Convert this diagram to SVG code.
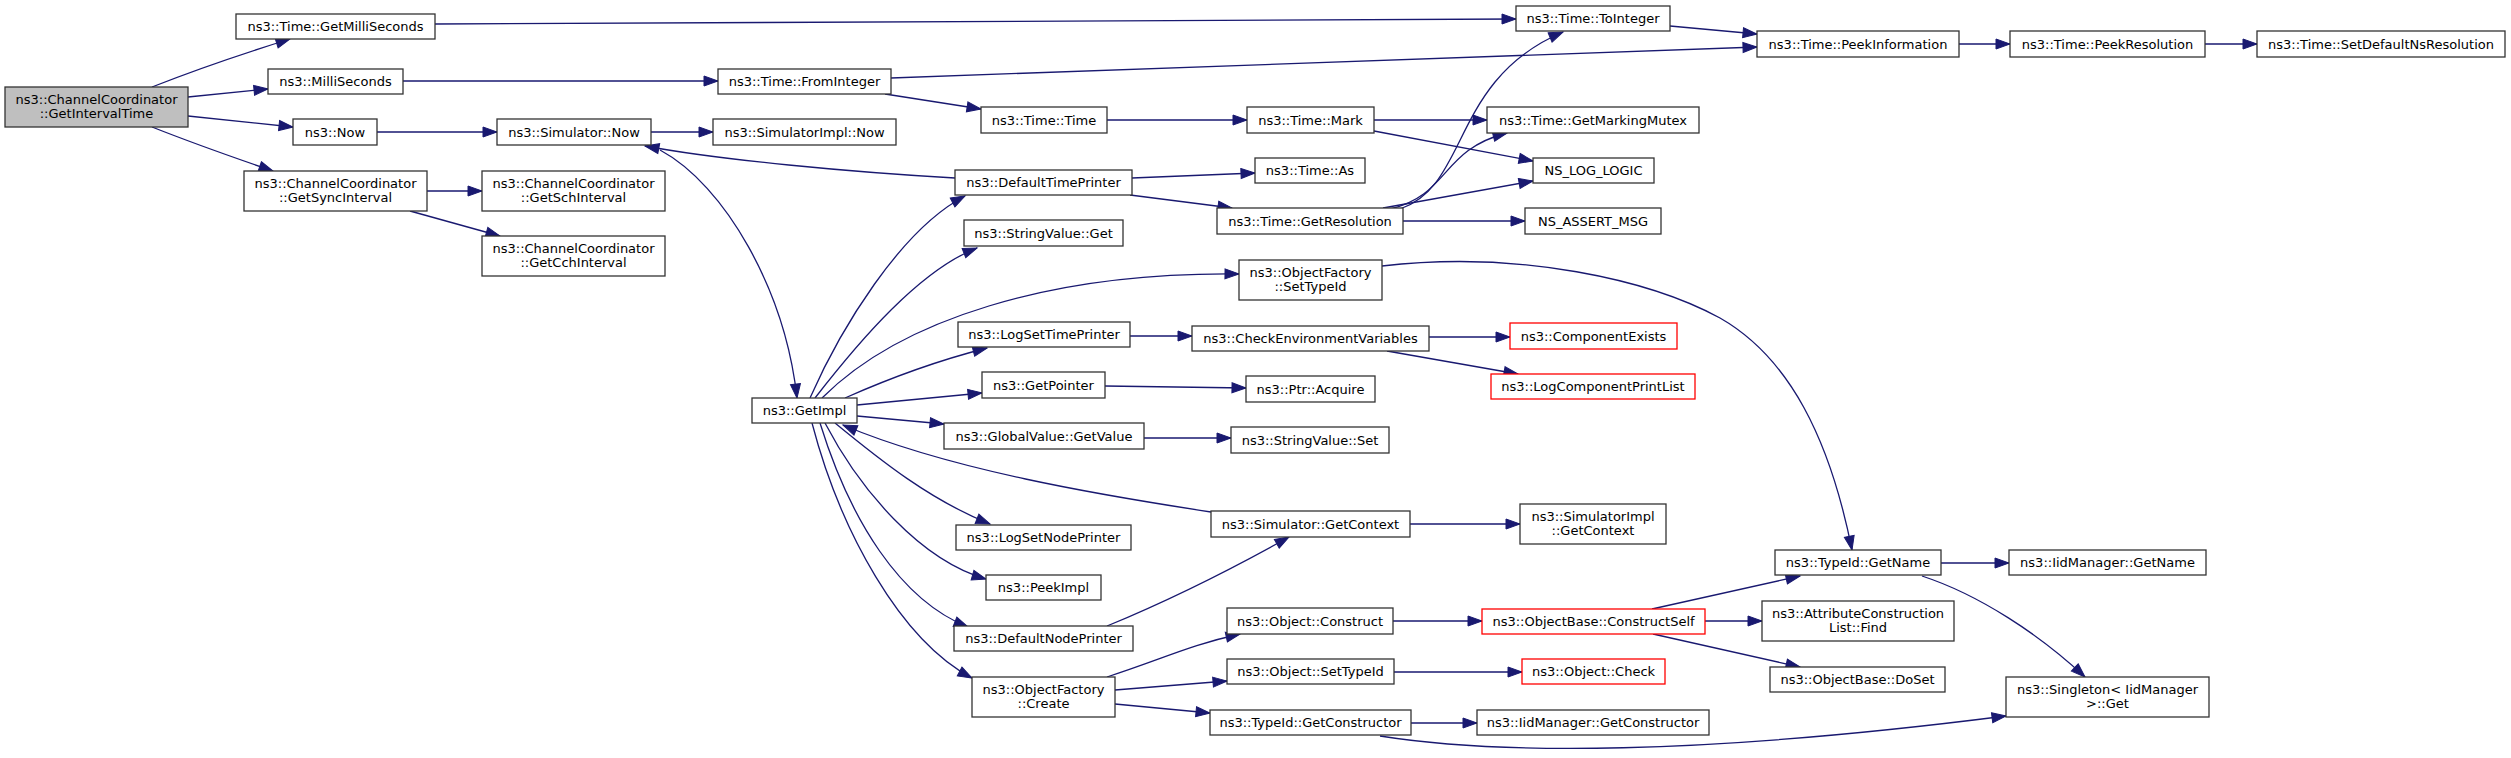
<svg xmlns="http://www.w3.org/2000/svg" width="2511" height="758" viewBox="0 0 2511 758">
<style>
.n rect{fill:#fff;stroke:#333;stroke-width:1.3}
.n.root rect{fill:#bfbfbf}
.n.red rect{stroke:#f00}
.n text{font-family:"DejaVu Sans","Liberation Sans",sans-serif;font-size:13px;text-anchor:middle;fill:#000}
#edges path{fill:none;stroke:#191970;stroke-width:1.3;marker-end:url(#ah)}
</style>
<defs>
<marker id="ah" markerUnits="userSpaceOnUse" markerWidth="15" markerHeight="11" refX="14" refY="5" orient="auto" overflow="visible"><path d="M0,0 L14,5 L0,10 z" fill="#191970" stroke="#191970" stroke-width="1"/></marker>
</defs>
<rect width="2511" height="758" fill="#fff"/>
<g id="edges">
<path d="M152,87 C190,72 245,53 290,39"/>
<path d="M188,97 L268,89"/>
<path d="M188,116 L293,127"/>
<path d="M152,127 C190,142 235,158 273,171"/>
<path d="M427,191 L482,191"/>
<path d="M410,211 L500,236"/>
<path d="M435,24 C600,20 800,19 1516,19"/>
<path d="M403,81 L718,81"/>
<path d="M377,132 L497,132"/>
<path d="M891,78 C1200,66 1500,55 1757,47"/>
<path d="M885,94 L981,109"/>
<path d="M1107,120 L1247,120"/>
<path d="M651,132 L713,132"/>
<path d="M660,150 C725,185 785,290 797,398"/>
<path d="M955,178 C850,172 720,160 645,146"/>
<path d="M810,398 C840,330 900,230 965,196"/>
<path d="M815,398 C860,340 920,270 977,248"/>
<path d="M822,398 C900,320 1050,272 1239,274"/>
<path d="M845,398 C890,378 940,360 987,348"/>
<path d="M857,405 L982,393"/>
<path d="M857,416 L944,424"/>
<path d="M1211,512 C1100,495 950,470 843,425"/>
<path d="M835,423 C880,460 930,500 990,524"/>
<path d="M825,423 C860,490 920,560 986,579"/>
<path d="M820,423 C850,520 900,600 968,627"/>
<path d="M812,423 C840,530 900,640 972,678"/>
<path d="M1107,626 C1170,600 1230,570 1289,537"/>
<path d="M1132,178 L1255,173"/>
<path d="M1130,195 L1232,208"/>
<path d="M1374,120 L1487,120"/>
<path d="M1374,131 L1533,161"/>
<path d="M1400,209 C1470,185 1450,80 1563,32"/>
<path d="M1390,209 C1450,195 1440,150 1507,133"/>
<path d="M1383,208 L1533,181"/>
<path d="M1403,221 L1525,221"/>
<path d="M1670,26 L1757,34"/>
<path d="M1959,44 L2010,44"/>
<path d="M2205,44 L2257,44"/>
<path d="M1130,336 L1192,336"/>
<path d="M1429,337 L1510,337"/>
<path d="M1387,351 L1518,374"/>
<path d="M1105,386 L1246,388"/>
<path d="M1144,438 L1231,438"/>
<path d="M1410,524 L1520,524"/>
<path d="M1382,266 C1520,250 1650,280 1720,318 C1790,358 1830,440 1852,550"/>
<path d="M1107,677 C1160,660 1190,645 1240,634"/>
<path d="M1115,690 L1227,681"/>
<path d="M1115,704 L1210,713"/>
<path d="M1393,621 L1482,621"/>
<path d="M1394,672 L1522,672"/>
<path d="M1411,723 L1477,723"/>
<path d="M1380,736 C1500,755 1700,755 2006,716"/>
<path d="M1652,609 C1700,598 1750,587 1800,576"/>
<path d="M1705,621 L1762,621"/>
<path d="M1653,634 L1800,667"/>
<path d="M1941,563 L2009,563"/>
<path d="M1922,576 C1980,595 2040,635 2085,677"/>
</g>
<g id="n0" class="n root"><rect x="5" y="87" width="183" height="40"/><text x="96.5" y="103.5">ns3::ChannelCoordinator</text><text x="96.5" y="118">::GetIntervalTime</text></g>
<g id="n1" class="n"><rect x="236" y="14" width="199" height="25"/><text x="335.5" y="31">ns3::Time::GetMilliSeconds</text></g>
<g id="n2" class="n"><rect x="268" y="69" width="135" height="25"/><text x="335.5" y="86">ns3::MilliSeconds</text></g>
<g id="n3" class="n"><rect x="293" y="119" width="84" height="26"/><text x="335" y="136.5">ns3::Now</text></g>
<g id="n4" class="n"><rect x="244" y="171" width="183" height="40"/><text x="335.5" y="187.5">ns3::ChannelCoordinator</text><text x="335.5" y="202">::GetSyncInterval</text></g>
<g id="n5" class="n"><rect x="718" y="69" width="173" height="25"/><text x="804.5" y="86">ns3::Time::FromInteger</text></g>
<g id="n6" class="n"><rect x="497" y="119" width="154" height="26"/><text x="574" y="136.5">ns3::Simulator::Now</text></g>
<g id="n7" class="n"><rect x="713" y="119" width="183" height="26"/><text x="804.5" y="136.5">ns3::SimulatorImpl::Now</text></g>
<g id="n8" class="n"><rect x="482" y="171" width="183" height="40"/><text x="573.5" y="187.5">ns3::ChannelCoordinator</text><text x="573.5" y="202">::GetSchInterval</text></g>
<g id="n9" class="n"><rect x="482" y="236" width="183" height="40"/><text x="573.5" y="252.5">ns3::ChannelCoordinator</text><text x="573.5" y="267">::GetCchInterval</text></g>
<g id="n10" class="n"><rect x="752" y="398" width="105" height="25"/><text x="804.5" y="415">ns3::GetImpl</text></g>
<g id="n11" class="n"><rect x="981" y="107" width="126" height="26"/><text x="1044" y="124.5">ns3::Time::Time</text></g>
<g id="n12" class="n"><rect x="955" y="170" width="177" height="25"/><text x="1043.5" y="187">ns3::DefaultTimePrinter</text></g>
<g id="n13" class="n"><rect x="964" y="220" width="159" height="26"/><text x="1043.5" y="237.5">ns3::StringValue::Get</text></g>
<g id="n14" class="n"><rect x="958" y="322" width="172" height="25"/><text x="1044" y="339">ns3::LogSetTimePrinter</text></g>
<g id="n15" class="n"><rect x="982" y="372" width="123" height="26"/><text x="1043.5" y="389.5">ns3::GetPointer</text></g>
<g id="n16" class="n"><rect x="944" y="423" width="200" height="26"/><text x="1044" y="440.5">ns3::GlobalValue::GetValue</text></g>
<g id="n17" class="n"><rect x="956" y="525" width="175" height="25"/><text x="1043.5" y="542">ns3::LogSetNodePrinter</text></g>
<g id="n18" class="n"><rect x="986" y="575" width="115" height="25"/><text x="1043.5" y="592">ns3::PeekImpl</text></g>
<g id="n19" class="n"><rect x="954" y="626" width="179" height="25"/><text x="1043.5" y="643">ns3::DefaultNodePrinter</text></g>
<g id="n20" class="n"><rect x="972" y="677" width="143" height="40"/><text x="1043.5" y="693.5">ns3::ObjectFactory</text><text x="1043.5" y="708">::Create</text></g>
<g id="n21" class="n"><rect x="1247" y="107" width="127" height="26"/><text x="1310.5" y="124.5">ns3::Time::Mark</text></g>
<g id="n22" class="n"><rect x="1255" y="158" width="110" height="25"/><text x="1310" y="175">ns3::Time::As</text></g>
<g id="n23" class="n"><rect x="1217" y="208" width="186" height="26"/><text x="1310" y="225.5">ns3::Time::GetResolution</text></g>
<g id="n24" class="n"><rect x="1239" y="260" width="143" height="40"/><text x="1310.5" y="276.5">ns3::ObjectFactory</text><text x="1310.5" y="291">::SetTypeId</text></g>
<g id="n25" class="n"><rect x="1192" y="326" width="237" height="25"/><text x="1310.5" y="343">ns3::CheckEnvironmentVariables</text></g>
<g id="n26" class="n"><rect x="1246" y="376" width="129" height="26"/><text x="1310.5" y="393.5">ns3::Ptr::Acquire</text></g>
<g id="n27" class="n"><rect x="1231" y="427" width="158" height="26"/><text x="1310" y="444.5">ns3::StringValue::Set</text></g>
<g id="n28" class="n"><rect x="1211" y="511" width="199" height="26"/><text x="1310.5" y="528.5">ns3::Simulator::GetContext</text></g>
<g id="n29" class="n"><rect x="1227" y="608" width="166" height="26"/><text x="1310" y="625.5">ns3::Object::Construct</text></g>
<g id="n30" class="n"><rect x="1227" y="659" width="167" height="25"/><text x="1310.5" y="676">ns3::Object::SetTypeId</text></g>
<g id="n31" class="n"><rect x="1210" y="710" width="201" height="25"/><text x="1310.5" y="727">ns3::TypeId::GetConstructor</text></g>
<g id="n32" class="n"><rect x="1516" y="6" width="154" height="25"/><text x="1593" y="23">ns3::Time::ToInteger</text></g>
<g id="n33" class="n"><rect x="1487" y="107" width="212" height="26"/><text x="1593" y="124.5">ns3::Time::GetMarkingMutex</text></g>
<g id="n34" class="n"><rect x="1533" y="158" width="121" height="25"/><text x="1593.5" y="175">NS_LOG_LOGIC</text></g>
<g id="n35" class="n"><rect x="1525" y="208" width="136" height="26"/><text x="1593" y="225.5">NS_ASSERT_MSG</text></g>
<g id="n36" class="n red"><rect x="1510" y="323" width="167" height="26"/><text x="1593.5" y="340.5">ns3::ComponentExists</text></g>
<g id="n37" class="n red"><rect x="1491" y="374" width="204" height="25"/><text x="1593" y="391">ns3::LogComponentPrintList</text></g>
<g id="n38" class="n"><rect x="1520" y="504" width="146" height="40"/><text x="1593" y="520.5">ns3::SimulatorImpl</text><text x="1593" y="535">::GetContext</text></g>
<g id="n39" class="n red"><rect x="1482" y="609" width="223" height="25"/><text x="1593.5" y="626">ns3::ObjectBase::ConstructSelf</text></g>
<g id="n40" class="n red"><rect x="1522" y="659" width="143" height="25"/><text x="1593.5" y="676">ns3::Object::Check</text></g>
<g id="n41" class="n"><rect x="1477" y="710" width="232" height="25"/><text x="1593" y="727">ns3::IidManager::GetConstructor</text></g>
<g id="n42" class="n"><rect x="1757" y="31" width="202" height="26"/><text x="1858" y="48.5">ns3::Time::PeekInformation</text></g>
<g id="n43" class="n"><rect x="1775" y="550" width="166" height="25"/><text x="1858" y="567">ns3::TypeId::GetName</text></g>
<g id="n44" class="n"><rect x="1762" y="601" width="192" height="40"/><text x="1858" y="617.5">ns3::AttributeConstruction</text><text x="1858" y="632">List::Find</text></g>
<g id="n45" class="n"><rect x="1770" y="667" width="175" height="25"/><text x="1857.5" y="684">ns3::ObjectBase::DoSet</text></g>
<g id="n46" class="n"><rect x="2006" y="677" width="203" height="40"/><text x="2107.5" y="693.5">ns3::Singleton&lt; IidManager</text><text x="2107.5" y="708">&gt;::Get</text></g>
<g id="n47" class="n"><rect x="2010" y="31" width="195" height="26"/><text x="2107.5" y="48.5">ns3::Time::PeekResolution</text></g>
<g id="n48" class="n"><rect x="2009" y="550" width="197" height="25"/><text x="2107.5" y="567">ns3::IidManager::GetName</text></g>
<g id="n49" class="n"><rect x="2257" y="31" width="248" height="26"/><text x="2381" y="48.5">ns3::Time::SetDefaultNsResolution</text></g>
</svg>
